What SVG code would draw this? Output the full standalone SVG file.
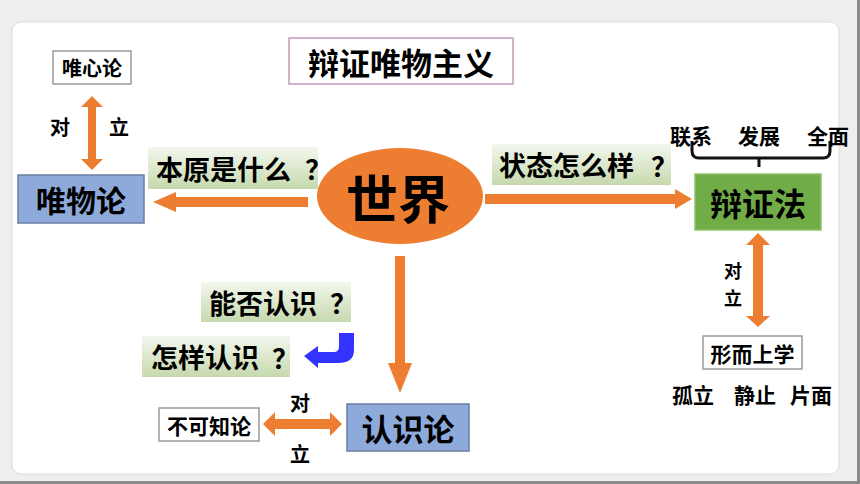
<svg xmlns="http://www.w3.org/2000/svg" width="860" height="484" viewBox="0 0 860 484">
<defs>
<linearGradient id="lg" x1="0" y1="0" x2="0" y2="1">
<stop offset="0" stop-color="#f3f7ee"/>
<stop offset="1" stop-color="#c6d9ad"/>
</linearGradient>
<style>
.t{font-family:"Noto Sans CJK SC","Noto Sans CJK TC",sans-serif;font-weight:bold;fill:#000;text-anchor:middle;dominant-baseline:central}
.s{text-anchor:start}
.ar{fill:#ed7d31}
.wb{fill:#fff;stroke:#999;stroke-width:1.5}
.bb{fill:#8eaadb;stroke:#6a7fa3;stroke-width:1.5}
.lab{fill:url(#lg)}
</style>
</defs>
<rect x="0" y="0" width="860" height="484" fill="#eeeeee"/>
<rect x="12" y="22" width="827" height="452" rx="9" fill="#fff" stroke="#dcdcdc" stroke-width="1"/>
<rect x="857" y="0" width="3" height="484" fill="#8a8a8a"/>
<rect x="0" y="481" width="860" height="3" fill="#8a8a8a"/>

<g id="connectors">
<polygon class="ar" points="153,202 176,192 176,197 308,197 308,207 176,207 176,212"/>
<polygon class="ar" points="692,199 675,189 675,194 485,194 485,204 675,204 675,209"/>
<polygon class="ar" points="400,393 388,363 395,363 395,256 405,256 405,363 412,363"/>
<polygon class="ar" points="92,96 103,107 96,107 96,159 103,159 92,170 81,159 88,159 88,107 81,107"/>
<polygon class="ar" points="758,233 770,245 763,245 763,316 770,316 758,327 746,316 753,316 753,245 746,245"/>
<polygon class="ar" points="263,424 275,412 275,419 330,419 330,412 342,424 330,436 330,429 275,429 275,436"/>
<path d="M339,333 L354,333 L354,350 Q354,363 338,363 L318,363 L318,368 L304,356 L318,346 L318,352 L334,352 Q339,352 339,346 Z" fill="#3333ff"/>
<path d="M692,141 L692,151 Q692,158 699,158 L823,158 Q830,158 830,151 L830,141 M759,158 L759,167" fill="none" stroke="#111" stroke-width="3"/>
</g>

<g id="title">
<rect x="289" y="38" width="224" height="46" fill="#fff" stroke="#c49ab8" stroke-width="1.5"/>
<text class="t" x="401" y="61" font-size="31">辩证唯物主义</text>
</g>

<g id="node-weixinlun">
<rect class="wb" x="53" y="51" width="78" height="33"/>
<text class="t" x="92" y="67.5" font-size="20">唯心论</text>
</g>
<g id="label-duili-1">
<text class="t" x="60" y="126" font-size="20">对</text>
<text class="t" x="119" y="126" font-size="20">立</text>
</g>

<g id="node-weiwulun">
<rect class="bb" x="18" y="175" width="126" height="48"/>
<text class="t" x="81" y="199" font-size="30">唯物论</text>
</g>

<g id="label-benyuan">
<rect class="lab" x="148" y="147" width="170" height="42"/>
<text class="t s" x="156" y="168" font-size="27">本原是什么<tspan x="305">？</tspan></text>
</g>

<g id="node-shijie">
<ellipse cx="400" cy="196" rx="83" ry="48" fill="#ed7d31"/>
<text class="t" x="398" y="196" font-size="52">世界</text>
</g>

<g id="label-zhuangtai">
<rect class="lab" x="492" y="144" width="179" height="41"/>
<text class="t s" x="499" y="164.5" font-size="27">状态怎么样<tspan x="651">？</tspan></text>
</g>

<g id="label-features">
<text class="t" x="691" y="135" font-size="21">联系</text>
<text class="t" x="759" y="135" font-size="21">发展</text>
<text class="t" x="828" y="135" font-size="21">全面</text>
</g>

<g id="node-bianzhengfa">
<rect x="695" y="174" width="126" height="56" fill="#70ad47" stroke="#8fc26a" stroke-width="1.5"/>
<text class="t" x="758" y="202" font-size="32">辩证法</text>
</g>

<g id="label-duili-2">
<text class="t" x="733" y="270" font-size="18">对</text>
<text class="t" x="733" y="297" font-size="18">立</text>
</g>

<g id="node-xingershangxue">
<rect class="wb" x="703" y="336" width="99" height="33"/>
<text class="t" x="752.5" y="352.5" font-size="21">形而上学</text>
</g>
<g id="label-metaphysics">
<text class="t" x="693" y="394" font-size="21">孤立</text>
<text class="t" x="755" y="394" font-size="21">静止</text>
<text class="t" x="811" y="394" font-size="21">片面</text>
</g>

<g id="label-nengfou">
<rect class="lab" x="201" y="282" width="150" height="40"/>
<text class="t s" x="209" y="302" font-size="27">能否认识<tspan x="330">？</tspan></text>
</g>
<g id="label-zenyang">
<rect class="lab" x="142" y="336" width="148" height="41"/>
<text class="t s" x="151" y="356.5" font-size="27">怎样认识<tspan x="272">？</tspan></text>
</g>

<g id="node-bukezhilun">
<rect class="wb" x="159" y="408" width="100" height="33"/>
<text class="t" x="209" y="424.5" font-size="21">不可知论</text>
</g>
<g id="label-duili-3">
<text class="t" x="300" y="402" font-size="20">对</text>
<text class="t" x="300" y="453" font-size="20">立</text>
</g>

<g id="node-renshilun">
<rect class="bb" x="347" y="404" width="122" height="47"/>
<text class="t" x="408" y="427.5" font-size="31">认识论</text>
</g>
</svg>
